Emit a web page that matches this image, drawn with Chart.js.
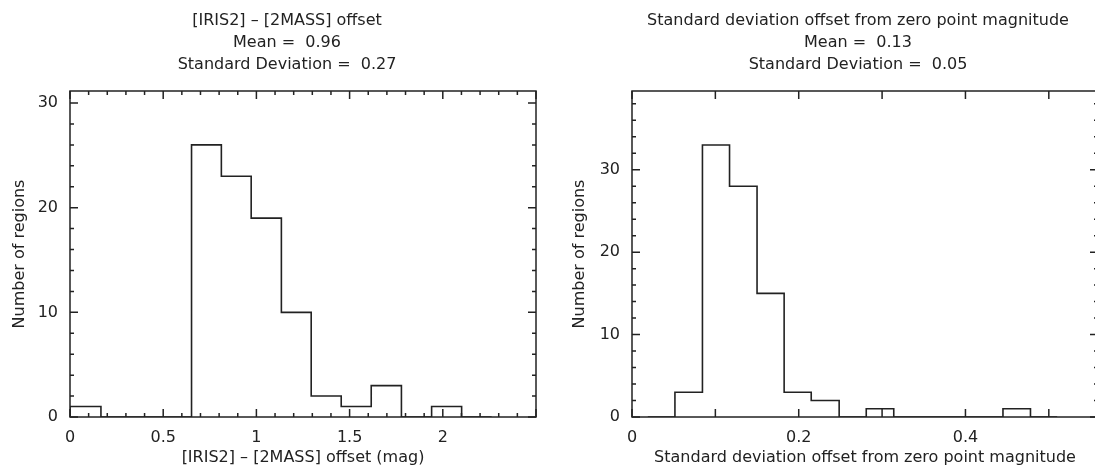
<!DOCTYPE html>
<html>
<head>
<meta charset="utf-8">
<script src="https://cdn.jsdelivr.net/npm/chart.js@4.4.1/dist/chart.umd.min.js"></script>
<style>
  html, body { margin: 0; padding: 0; background: #fff; overflow: hidden; }
  body { width: 1095px; height: 468px; position: relative; }
  canvas { position: absolute; top: 0; }
  #c1 { left: 0; }
  #c2 { left: 560px; }
</style>
</head>
<body>
<canvas id="c1" width="574" height="468"></canvas>
<canvas id="c2" width="596" height="468"></canvas>
<script>
// left panel: [IRIS2] - [2MASS] offset histogram
const offsetEdges = [0, 0.166, 0.328, 0.49, 0.652, 0.812, 0.972, 1.134, 1.294, 1.455, 1.616, 1.778, 1.94, 2.101, 2.262];
const offsetCounts = [1, 0, 0, 0, 26, 23, 19, 10, 2, 1, 3, 0, 1, 0];
const offsetXTicks = [0, 0.5, 1, 1.5, 2];

// right panel: standard deviation offset histogram
const sdEdges = [0.019, 0.0515, 0.0845, 0.117, 0.15, 0.1825, 0.215, 0.2485, 0.281, 0.314, 0.347, 0.38, 0.413, 0.445, 0.478, 0.51];
const sdCounts = [0, 3, 33, 28, 15, 3, 2, 0, 1, 0, 0, 0, 0, 1, 0];
const sdXTicks = [0, 0.2, 0.4];

const countTicks = [0, 10, 20, 30];

const ink = '#222';
Chart.defaults.font.family = "'DejaVu Sans', sans-serif";
Chart.defaults.font.size = 16;
Chart.defaults.color = ink;

// histogram outline as a stepped line
function outline(edges, counts) {
    const pts = [{x: edges[0], y: 0}];
    counts.forEach((c, i) => pts.push({x: edges[i], y: c}));
    pts.push({x: edges[counts.length], y: counts[counts.length - 1]});
    pts.push({x: edges[counts.length], y: 0});
    return pts;
}

// box round the plot with inward ticks on all four sides
const frameTicks = {
    id: 'frameTicks',
    afterDatasetsDraw(chart, args, opts) {
        const {ctx, chartArea: a, scales: {x, y}} = chart;
        ctx.save();
        ctx.strokeStyle = ink;
        ctx.lineWidth = 1.5;
        ctx.strokeRect(a.left, a.top, a.right - a.left, a.bottom - a.top);
        ctx.beginPath();
        const marks = (scale, minor, major, fn) => {
            for (let i = 0; ; i++) {
                const v = i * minor;
                if (v > scale.max + 1e-9) break;
                const r = v / major;
                const len = Math.abs(r - Math.round(r)) < 1e-6 ? opts.major : opts.minor;
                fn(scale.getPixelForValue(v), len);
            }
        };
        marks(x, opts.xMinor, opts.xMajor, (p, len) => {
            ctx.moveTo(p, a.bottom); ctx.lineTo(p, a.bottom - len);
            ctx.moveTo(p, a.top); ctx.lineTo(p, a.top + len);
        });
        marks(y, opts.yMinor, opts.yMajor, (p, len) => {
            ctx.moveTo(a.left, p); ctx.lineTo(a.left + len, p);
            ctx.moveTo(a.right, p); ctx.lineTo(a.right - len, p);
        });
        ctx.stroke();
        ctx.restore();
    }
};

function makeHist(canvas, edges, counts, xTicks, xMax, yMax, title, xTitle, leftW, rightW, tickOpts) {
    return new Chart(canvas, {
        type: 'line',
        data: {
            datasets: [{
                data: outline(edges, counts),
                stepped: 'before',
                borderColor: ink,
                borderWidth: 1.6,
                pointRadius: 0,
                fill: false
            }]
        },
        options: {
            responsive: false,
            animation: false,
            layout: { padding: 0 },
            plugins: {
                legend: { display: false },
                tooltip: { enabled: false },
                title: {
                    display: true,
                    text: title,
                    font: { size: 16, weight: 'normal', lineHeight: '22px' },
                    color: ink,
                    padding: { top: 10, bottom: 15 }
                },
                frameTicks: Object.assign({ major: 8, minor: 4 }, tickOpts)
            },
            scales: {
                x: {
                    type: 'linear',
                    min: 0,
                    max: xMax,
                    grid: { display: false },
                    border: { display: false },
                    afterBuildTicks: s => { s.ticks = xTicks.map(v => ({ value: v })); },
                    ticks: { padding: 3.5, maxRotation: 0, callback: v => String(v) },
                    title: { display: true, text: xTitle, padding: { top: 0, bottom: 0.4 } },
                    afterFit: s => { s.height = 51; }
                },
                y: {
                    type: 'linear',
                    min: 0,
                    max: yMax,
                    grid: { display: false },
                    border: { display: false },
                    afterBuildTicks: s => { s.ticks = countTicks.map(v => ({ value: v })); },
                    ticks: { padding: 4 },
                    title: { display: true, text: 'Number of regions', padding: { top: 10, bottom: 0 } },
                    afterFit: s => { s.width = leftW; }
                },
                yr: {
                    type: 'linear',
                    position: 'right',
                    grid: { display: false },
                    border: { display: false },
                    ticks: { display: false },
                    afterFit: s => { s.width = rightW; }
                }
            }
        },
        plugins: [frameTicks]
    });
}

makeHist(document.getElementById('c1'), offsetEdges, offsetCounts, offsetXTicks, 2.5, 31.15,
    ['[IRIS2] – [2MASS] offset', 'Mean =  0.96', 'Standard Deviation =  0.27'],
    '[IRIS2] – [2MASS] offset (mag)', 70, 38,
    { xMinor: 0.1, xMajor: 0.5, yMinor: 2, yMajor: 10 });

makeHist(document.getElementById('c2'), sdEdges, sdCounts, sdXTicks, 0.559, 39.55,
    ['Standard deviation offset from zero point magnitude', 'Mean =  0.13', 'Standard Deviation =  0.05'],
    'Standard deviation offset from zero point magnitude', 72, 58,
    { xMinor: 0.1, xMajor: 0.1, yMinor: 2, yMajor: 10 });
</script>
</body>
</html>
